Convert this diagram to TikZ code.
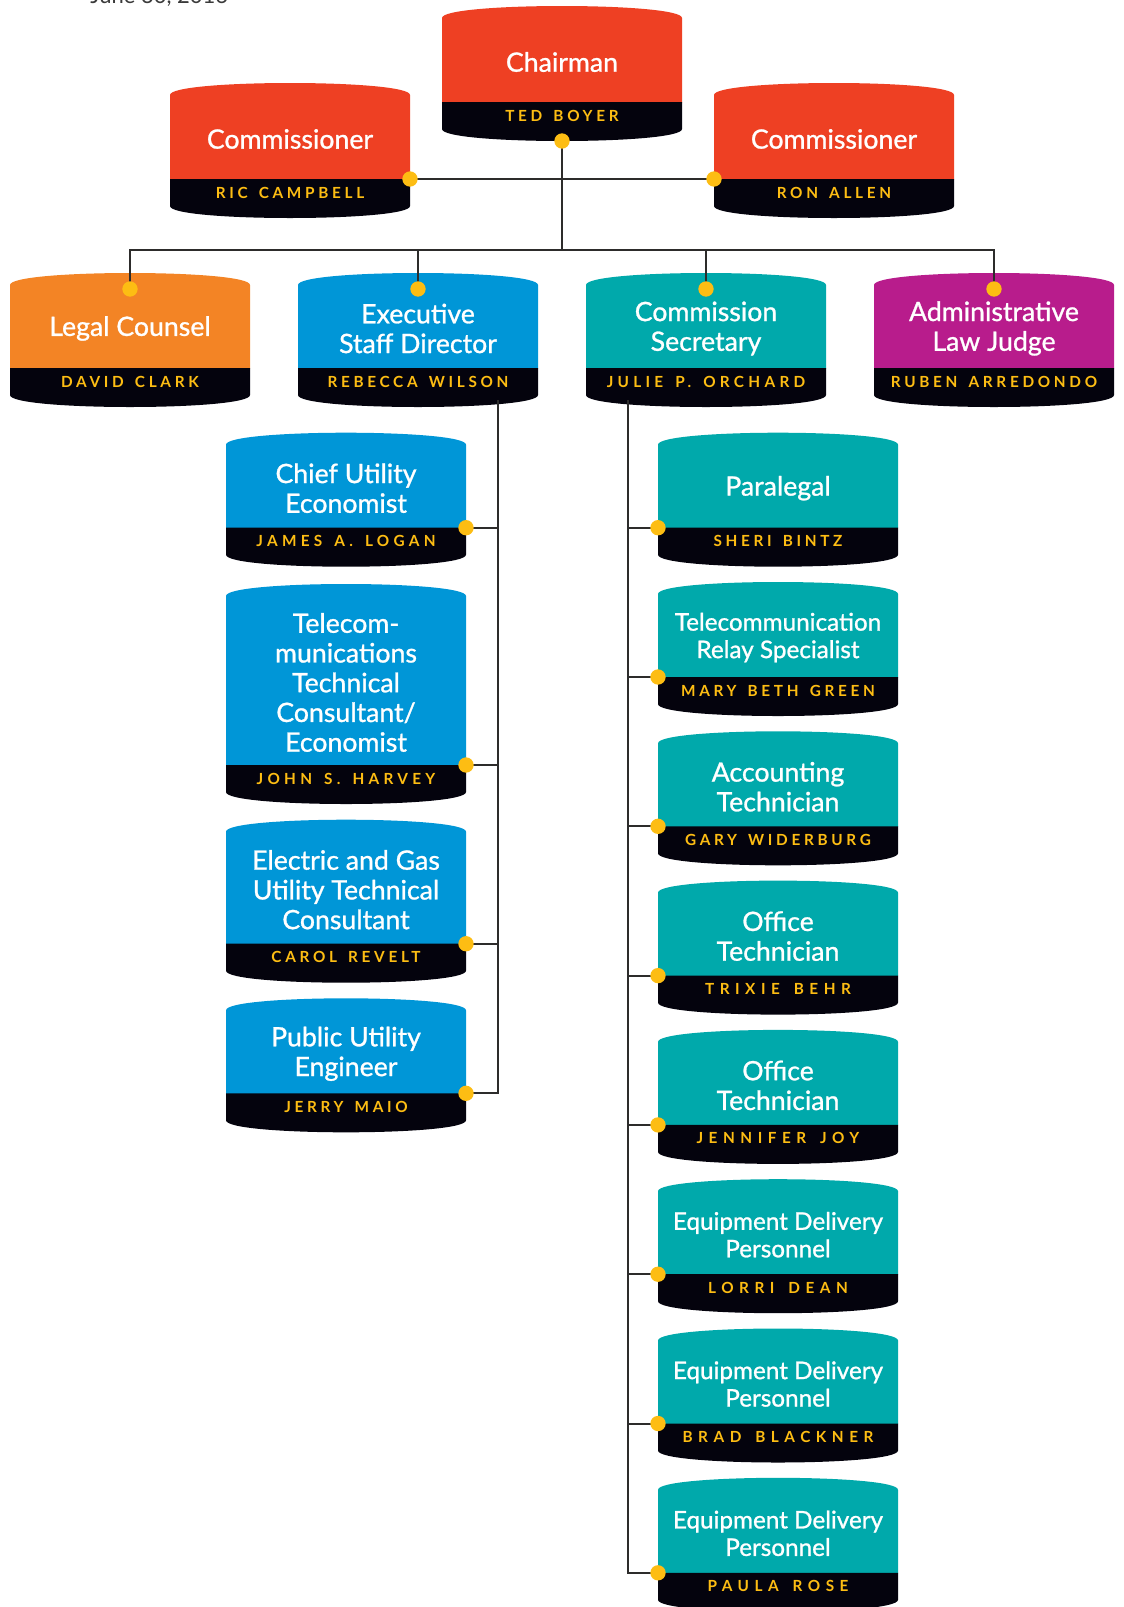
\documentclass[tikz,border=0pt]{standalone}
\usepackage{fontspec}
\setmainfont{Lato}
\newfontfamily\titlefont[FakeBold=1]{Lato}
\usetikzlibrary{calc}

\definecolor{chairred}{HTML}{EE4023}
\definecolor{legalorange}{HTML}{F38425}
\definecolor{execblue}{HTML}{0096D7}
\definecolor{secteal}{HTML}{00A9AB}
\definecolor{aljmagenta}{HTML}{B81C8C}
\definecolor{bandblack}{HTML}{04030D}
\definecolor{dotyellow}{HTML}{FDBD13}
\definecolor{linegray}{HTML}{2D2C2B}
\definecolor{dategray}{HTML}{3A3A3A}

% #1 box options, #2 name, #3 x, #4 y of the name band, #5 height above band, #6 colour, #7 title, #8 person
\newcommand{\orgbox}[8][]{%
  \begin{scope}[shift={(#3,#4)},#1]
    \fill[#6] (-120,0.5) -- (-120,-#5) .. controls +(0,-16) and +(0,-16) .. (120,-#5) -- (120,0.5) -- cycle;
    \fill[bandblack] (-120,0) -- (-120,27) .. controls +(0,16) and +(0,16) .. (120,27) -- (120,0) -- cycle;
    \node[boxtitle,title extra] (#2) at (0,-#5/2+2) {#7};
    \node[boxname,name extra] (#2-name) at (0,13.5) {#8};
    \coordinate (#2-n) at (0,-#5+4);
    \coordinate (#2-s) at (0,39);
    \coordinate (#2-w) at (-120,0);
    \coordinate (#2-e) at (120,0);
  \end{scope}}

\newcommand{\namefont}[1]{\bfseries\fontsize{11.5}{13}\selectfont\addfontfeature{LetterSpace=#1}\spaceskip=1.5\fontdimen2\font\relax}

\begin{document}
\begin{tikzpicture}[x=0.75pt,y=-0.75pt,
  boxtitle/.style={text=white,align=center,inner sep=0pt,font=\titlefont\fontsize{20}{22.3}\selectfont},
  boxname/.style={text=dotyellow,inner sep=0pt,font=\namefont{24}},
  title extra/.style={},
  name extra/.style={},
  smalltitle/.style={title extra/.style={font=\titlefont\fontsize{18.2}{20.6}\selectfont}},
  midname/.style={name extra/.style={font=\namefont{28}}},
  widename/.style={name extra/.style={font=\namefont{36}}},
  link/.style={draw=linegray,line width=1.5pt},
  joint/.style={circle,fill=dotyellow,inner sep=0pt,minimum size=11.5pt}]
\useasboundingbox (0,0) rectangle (1124,1607);

\node[anchor=base west,text=dategray,font=\fontsize{16.5}{18}\selectfont,inner sep=0pt] (date) at (90,3) {June 30, 2016};

\orgbox{chair}{562}{102}{84}{chairred}{Chairman}{TED BOYER}
\orgbox{comleft}{290}{179}{84}{chairred}{Commissioner}{RIC CAMPBELL}
\orgbox{comright}{834}{179}{84}{chairred}{Commissioner}{RON ALLEN}

\orgbox{legal}{130}{368}{83}{legalorange}{Legal Counsel}{DAVID CLARK}
\orgbox{exec}{418}{368}{83}{execblue}{Executive\\Staff Director}{REBECCA WILSON}
\orgbox[midname]{secr}{706}{368}{83}{secteal}{Commission\\Secretary}{JULIE P. ORCHARD}
\orgbox{alj}{994}{368}{83}{aljmagenta}{Administrative\\Law Judge}{RUBEN ARREDONDO}

\orgbox[midname]{cue}{346}{527.7}{83}{execblue}{Chief Utility\\Economist}{JAMES A. LOGAN}
\orgbox[midname]{tce}{346}{765}{169}{execblue}{Telecom-\\munications\\Technical\\Consultant/\\Economist}{JOHN S. HARVEY}
\orgbox{egc}{346}{943.7}{112}{execblue}{Electric and Gas\\Utility Technical\\Consultant}{CAROL REVELT}
\orgbox{pue}{346}{1093.3}{83}{execblue}{Public Utility\\Engineer}{JERRY MAIO}

\orgbox{para}{778}{527.7}{83}{secteal}{Paralegal}{SHERI BINTZ}
\orgbox[smalltitle]{relay}{778}{677}{83}{secteal}{Telecommunication\\Relay Specialist}{MARY BETH GREEN}
\orgbox{acct}{778}{826.3}{83}{secteal}{Accounting\\Technician}{GARY WIDERBURG}
\orgbox[widename]{offa}{778}{975.6}{83}{secteal}{Office\\Technician}{TRIXIE BEHR}
\orgbox[widename]{offb}{778}{1124.9}{83}{secteal}{Office\\Technician}{JENNIFER JOY}
\orgbox[smalltitle,widename]{equa}{778}{1274.2}{83}{secteal}{Equipment Delivery\\Personnel}{LORRI DEAN}
\orgbox[smalltitle,widename]{equb}{778}{1423.5}{83}{secteal}{Equipment Delivery\\Personnel}{BRAD BLACKNER}
\orgbox[smalltitle,widename]{equc}{778}{1572.8}{83}{secteal}{Equipment Delivery\\Personnel}{PAULA ROSE}

\coordinate (bus) at (562,250);
\coordinate (execspine) at (498,400);
\coordinate (secrspine) at (628,400);

\draw[link] (comleft-e) -- (comright-w);
\draw[link] (chair-s) -- (bus);
\draw[link] (legal-n) |- (bus) -| (alj-n);
\draw[link] (exec-n) -- (exec-n |- bus);
\draw[link] (secr-n) -- (secr-n |- bus);

\draw[link] (execspine) |- (pue-e);
\foreach \b in {cue,tce,egc}
  \draw[link] (\b-e) -- (\b-e -| execspine);
\draw[link] (secrspine) |- (equc-w);
\foreach \b in {para,relay,acct,offa,offb,equa,equb}
  \draw[link] (\b-w) -- (\b-w -| secrspine);

\foreach \d in {chair-s,comleft-e,comright-w,legal-n,exec-n,secr-n,alj-n,
  cue-e,tce-e,egc-e,pue-e,para-w,relay-w,acct-w,offa-w,offb-w,equa-w,equb-w,equc-w}
  \node[joint] (dot-\d) at (\d) {};
\end{tikzpicture}
\end{document}
